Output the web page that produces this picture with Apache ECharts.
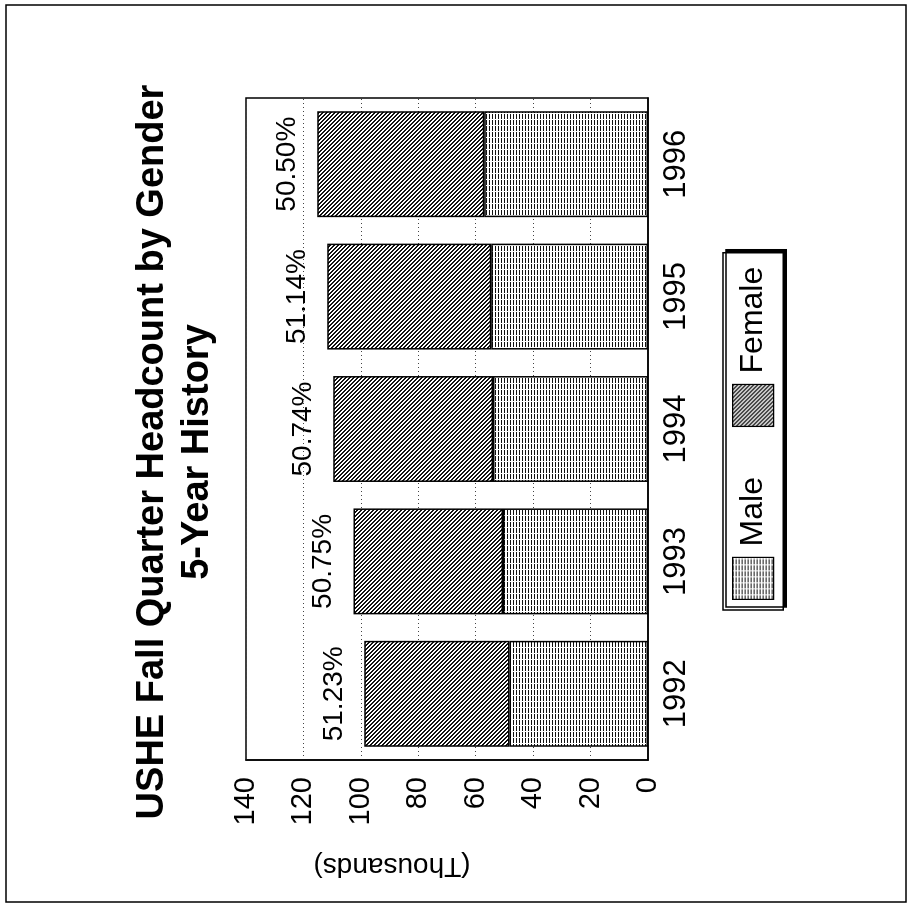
<!DOCTYPE html>
<html>
<head>
<meta charset="utf-8">
<script src="https://cdn.jsdelivr.net/npm/echarts@6/dist/echarts.min.js"></script>
<style>
  html, body { margin: 0; padding: 0; width: 910px; height: 904px; overflow: hidden; background: #fff; }
  #chart { position: absolute; width: 904px; height: 910px; left: 3px; top: -3px; transform: rotate(-90deg); transform-origin: 50% 50%; }
</style>
</head>
<body>
<div id="chart"></div>
<script>
// ---- data ----
const categories = ['1992', '1993', '1994', '1995', '1996'];
const maleValues = [48.2, 50.5, 54.0, 54.6, 57.0];     // thousands
const femaleValues = [50.6, 52.1, 55.6, 57.1, 58.2];  // thousands
const femaleShareLabels = ['51.23%', '50.75%', '50.74%', '51.14%', '50.50%'];
const valueMin = 0;
const valueMax = 140;
const valueStep = 20;

// ---- hatch patterns ----
function makeMalePattern() {
  const c = document.createElement('canvas');
  c.width = 6; c.height = 3;
  const g = c.getContext('2d');
  g.fillStyle = '#fff'; g.fillRect(0, 0, 6, 3);
  g.fillStyle = '#111'; g.fillRect(0, 0, 6, 1);
  g.fillStyle = '#fff'; g.fillRect(4, 0, 1, 1);
  return c;
}
function makeFemalePattern() {
  const c = document.createElement('canvas');
  c.width = 4; c.height = 4;
  const g = c.getContext('2d');
  g.fillStyle = '#fff'; g.fillRect(0, 0, 4, 4);
  g.fillStyle = '#111';
  for (let i = 0; i < 4; i++) { g.fillRect(i, i, 1, 1); g.fillRect((i + 1) % 4, i, 1, 1); }
  return c;
}
const malePattern = { image: makeMalePattern(), repeat: 'repeat' };
const femalePattern = { image: makeFemalePattern(), repeat: 'repeat' };

const FONT = '"Liberation Sans", Arial, Helvetica, sans-serif';
const chart = echarts.init(document.getElementById('chart'), null, { renderer: 'canvas' });

chart.setOption({
  backgroundColor: '#fff',
  animation: false,
  title: {
    text: 'USHE Fall Quarter Headcount by Gender\n5-Year History',
    left: 'center',
    top: 130,
    padding: 0,
    textStyle: { fontFamily: FONT, fontSize: 38, fontWeight: 'bold', color: '#000', lineHeight: 45 }
  },
  legend: {
    data: ['Male', 'Female'],
    orient: 'horizontal',
    icon: 'rect',
    left: 294,
    top: 723,
    padding: [9, 14, 9, 10],
    itemWidth: 42,
    itemHeight: 41,
    itemGap: 50,
    backgroundColor: '#fff',
    borderColor: '#000',
    borderWidth: 1.5,
    shadowColor: '#000',
    shadowBlur: 0,
    shadowOffsetX: 3,
    shadowOffsetY: 3,
    itemStyle: { borderColor: '#000', borderWidth: 1.2 },
    textStyle: { fontFamily: FONT, fontSize: 32, color: '#000', padding: [0, 0, 0, 6] }
  },
  grid: {
    left: 144, right: 98, top: 246, bottom: 262,
    show: true, borderColor: '#000', borderWidth: 1.5, backgroundColor: 'transparent'
  },
  xAxis: {
    type: 'category',
    data: categories,
    axisLine: { show: true, lineStyle: { color: '#000', width: 1.5 } },
    axisTick: { show: false },
    axisLabel: { fontFamily: FONT, fontSize: 31, color: '#000', margin: 13 }
  },
  yAxis: {
    type: 'value',
    min: valueMin, max: valueMax, interval: valueStep,
    name: '(Thousands)',
    nameLocation: 'middle',
    nameRotate: 90,
    nameGap: 92,
    nameTextStyle: { fontFamily: FONT, fontSize: 28, color: '#000', padding: [0, 0, 0, 110] },
    axisLine: { show: true, lineStyle: { color: '#000', width: 1.5 } },
    axisTick: { show: false },
    axisLabel: { fontFamily: FONT, fontSize: 29, color: '#000', margin: 17 },
    splitLine: { show: true, lineStyle: { color: '#444', width: 1, type: [1, 3] } }
  },
  graphic: [{
    type: 'rect',
    shape: { x: 2, y: 6, width: 897, height: 900 },
    style: { fill: 'none', stroke: '#000', lineWidth: 1.5 },
    silent: true, z: -1
  }],
  series: [
    {
      name: 'Male', type: 'bar', stack: 'total', barCategoryGap: '20%',
      data: maleValues,
      itemStyle: { color: malePattern, borderColor: '#000', borderWidth: 1.5 }
    },
    {
      name: 'Female', type: 'bar', stack: 'total', barCategoryGap: '20%',
      data: femaleValues,
      itemStyle: { color: femalePattern, borderColor: '#000', borderWidth: 1.5 },
      label: {
        show: true, position: 'top', distance: 16,
        fontFamily: FONT, fontSize: 28, color: '#000',
        formatter: p => femaleShareLabels[p.dataIndex]
      }
    }
  ]
});
</script>
</body>
</html>
